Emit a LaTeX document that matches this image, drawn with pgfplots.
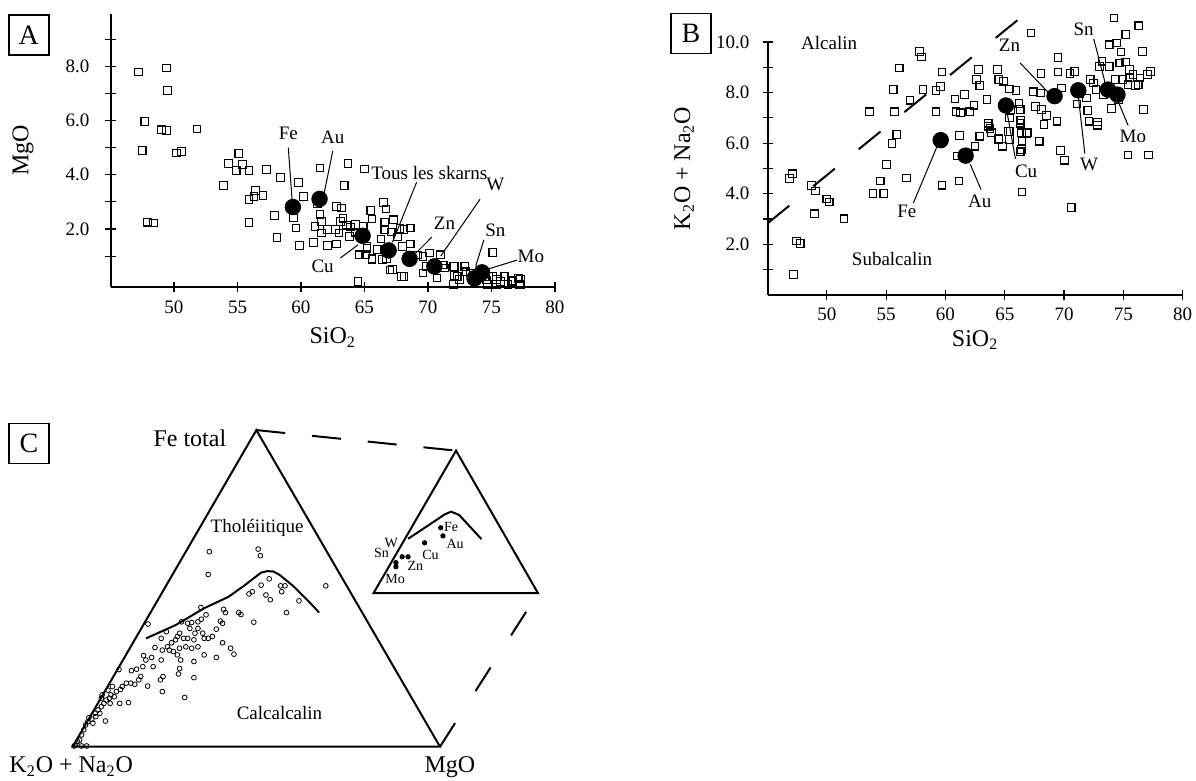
\documentclass[border=0pt]{standalone}
\usepackage{fontspec}
\setmainfont{Liberation Serif}
\usepackage{pgfplots}
\usepackage{pgfplotstable}
\pgfplotsset{compat=1.18}

\newcommand\annf{\fontsize{9.5}{11}\selectfont}
\newcommand\bigf{\fontsize{12}{14}\selectfont}
\newcommand\smallf{\fontsize{7}{8}\selectfont}

% ---------- Panel A : MgO vs SiO2 ----------
\pgfplotstableread{
x y
47.2 7.79
49.4 7.94
49.5 7.10
47.7 5.97
49.0 5.66
49.4 5.63
51.8 5.69
47.5 4.90
50.2 4.80
50.6 4.86
47.9 2.25
48.4 2.22
55.1 4.78
54.3 4.41
54.9 4.16
55.4 4.38
55.9 4.16
53.9 3.61
57.3 4.19
56.4 3.42
56.3 3.20
57.0 3.24
55.9 3.08
55.9 2.24
58.4 3.90
57.9 2.49
58.1 1.69
59.8 3.72
60.2 3.20
59.4 2.41
59.6 2.04
59.9 1.39
61.5 4.25
63.7 4.41
65.0 4.21
63.4 3.61
61.0 1.51
62.1 1.39
62.8 1.45
61.5 2.53
61.3 2.93
61.1 2.10
61.6 2.28
61.6 1.85
62.1 1.98
62.7 1.98
62.8 2.83
63.2 2.77
63.1 2.28
63.0 1.85
63.3 2.40
63.9 2.07
63.8 1.73
64.3 2.16
64.3 1.85
64.9 2.10
64.6 1.05
65.1 1.05
64.5 0.07
65.2 1.36
65.5 2.69
65.6 2.37
65.6 0.87
66.3 1.63
66.0 1.24
66.4 0.87
66.5 2.98
66.7 2.74
66.6 2.24
66.6 1.98
67.3 2.34
67.6 1.70
67.2 0.50
68.0 1.36
68.1 1.98
68.6 2.04
68.6 1.45
68.1 0.25
69.6 0.99
70.1 1.11
71.0 1.05
69.6 0.38
69.9 0.62
70.7 0.19
71.3 0.56
72.1 0.62
72.1 0.28
72.0 -0.05
72.5 0.13
72.9 0.62
73.3 0.38
75.1 1.14
74.8 0.25
74.7 -0.05
75.4 0.13
76.0 0.25
75.4 -0.05
76.3 -0.05
76.7 0.09
77.3 0.16
77.3 -0.05
63.6 2.14
64.25 1.89
67.8 2.01
67.1 1.89
65.2 1.28
65.6 0.92
66.75 0.92
67.0 0.49
67.9 0.24
69.2 1.04
71.2 0.67
72.0 0.61
72.3 0.24
73.0 0.42
74.2 0.37
74.6 0.12
75.1 0.24
75.7 0.06
76.06 0.24
76.6 0.06
77.1 0.18
77.2 -0.06
}\Asq

\pgfplotstableread{
x y
59.36 2.81
61.46 3.11
64.85 1.75
66.9 1.21
68.55 0.90
70.5 0.62
73.66 0.18
74.25 0.40
}\Abig

% ---------- Panel B : K2O+Na2O vs SiO2 ----------
\pgfplotstableread{
x y
46.86 4.61
47.09 4.79
47.44 2.13
47.76 2.04
47.2 0.82
48.7 4.33
49.05 4.11
48.95 3.21
50.0 3.80
50.2 3.68
51.45 3.01
53.6 7.24
53.9 4.01
54.5 4.50
54.8 4.01
55.05 5.16
55.6 8.12
55.7 7.24
55.5 5.99
55.9 6.34
56.1 8.97
56.7 4.63
57.0 7.70
57.8 9.63
58.0 9.41
58.1 8.12
59.2 8.09
59.2 7.24
59.6 8.25
59.7 8.82
59.7 4.34
60.8 7.75
60.9 7.24
61.25 7.20
61.2 6.30
61.15 4.50
61.6 7.92
61.0 5.49
62.05 7.24
62.4 7.50
62.5 5.88
62.6 8.51
62.8 8.91
62.9 8.28
62.9 6.28
63.5 7.72
63.6 6.67
63.9 6.41
64.4 8.91
64.5 8.51
64.9 8.45
65.4 8.14
65.95 8.09
64.5 6.14
64.8 5.88
65.4 6.14
65.4 7.00
65.5 7.33
65.3 6.47
66.2 7.57
66.3 7.33
66.35 6.91
66.4 6.41
66.4 5.75
66.45 6.08
66.9 6.41
66.45 4.07
67.2 10.36
67.4 8.03
67.6 7.46
67.9 6.08
68.0 7.99
68.05 8.75
68.1 7.33
68.3 6.74
68.5 7.09
69.5 9.39
69.5 8.82
69.4 6.87
69.7 5.71
70.05 5.33
69.8 8.18
70.6 3.45
70.5 8.75
70.9 8.84
71.1 7.55
72.0 7.30
72.1 6.87
72.8 6.71
72.8 6.84
72.2 8.51
72.5 8.38
72.7 8.12
73.0 9.04
73.2 9.24
73.8 9.04
73.8 9.89
74.2 10.95
74.4 9.96
74.8 9.61
75.2 10.29
74.7 9.17
75.2 9.21
75.5 8.91
75.4 8.32
75.5 8.58
75.4 5.53
76.3 10.64
76.6 9.63
76.4 8.58
76.25 8.32
76.7 7.33
77.1 5.53
77.3 8.84
77.05 8.71
73.3 7.92
71.9 7.79
71.3 7.96
74.0 7.37
74.6 7.72
73.8 8.12
74.3 8.51
74.96 8.51
75.8 8.71
76.0 8.28
63.6 6.79
63.76 6.59
62.9 6.26
62.5 5.86
64.46 6.19
65.45 6.46
66.3 6.79
66.85 6.39
66.3 5.66
}\Bsq

\pgfplotstableread{
x y
59.6 6.12
61.7 5.51
65.1 7.49
69.2 7.86
71.2 8.09
73.7 8.12
74.5 7.92
}\Bbig

% ---------- Panel C : AFM ternary (u = horizontal, v = vertical, unit = triangle side) ----------
\pgfplotstableread{
u v
0.372 0.531
0.505 0.538
0.511 0.520
0.369 0.469
0.689 0.438
0.535 0.457
0.513 0.440
0.489 0.422
0.480 0.416
0.526 0.413
0.538 0.400
0.566 0.438
0.578 0.438
0.569 0.422
0.616 0.397
0.582 0.365
0.493 0.339
0.411 0.374
0.416 0.365
0.452 0.365
0.458 0.360
0.349 0.379
0.363 0.359
0.402 0.342
0.408 0.336
0.391 0.320
0.350 0.347
0.341 0.340
0.324 0.338
0.313 0.336
0.319 0.322
0.341 0.322
0.333 0.309
0.354 0.309
0.358 0.295
0.369 0.295
0.380 0.300
0.408 0.283
0.430 0.268
0.439 0.252
0.391 0.243
0.358 0.250
0.330 0.232
0.296 0.340
0.291 0.309
0.285 0.300
0.280 0.291
0.269 0.283
0.258 0.272
0.263 0.263
0.274 0.259
0.291 0.268
0.308 0.272
0.324 0.268
0.341 0.272
0.313 0.295
0.330 0.291
0.302 0.295
0.241 0.295
0.255 0.313
0.224 0.270
0.244 0.263
0.215 0.243
0.193 0.248
0.199 0.236
0.241 0.236
0.219 0.218
0.191 0.218
0.174 0.211
0.160 0.207
0.185 0.191
0.180 0.182
0.158 0.173
0.169 0.170
0.204 0.165
0.246 0.191
0.239 0.182
0.291 0.213
0.288 0.198
0.294 0.236
0.285 0.250
0.330 0.188
0.305 0.134
0.244 0.150
0.126 0.210
0.205 0.334
0.146 0.173
0.135 0.164
0.130 0.156
0.119 0.150
0.108 0.164
0.104 0.141
0.100 0.132
0.091 0.127
0.085 0.118
0.078 0.109
0.069 0.100
0.080 0.141
0.102 0.118
0.113 0.136
0.128 0.118
0.152 0.120
0.096 0.154
0.074 0.091
0.063 0.082
0.052 0.075
0.041 0.068
0.044 0.079
0.035 0.059
0.030 0.046
0.024 0.032
0.019 0.018
0.013 0.014
0.008 0.005
0.004 0.002
0.024 0.002
0.038 0.002
0.055 0.064
0.061 0.091
0.089 0.070
0.078 0.132
}\Ccirc

\pgfplotstableread{
u v
1.002 0.596
1.008 0.574
0.958 0.555
0.897 0.517
0.913 0.517
0.880 0.501
0.880 0.490
}\Cdots

\pgfplotsset{
  panel/.style={
    scale only axis, clip=false,
    axis x line*=bottom, axis y line*=left,
    axis line style={-, line width=1pt, black},
    tick align=center, major tick length=5pt,
    every tick/.style={black, line width=0.6pt},
    tick label style={font=\annf},
    /pgf/number format/assume math mode=true,
    label style={font=\bigf},
  },
  sq/.style={only marks, mark=square, mark size=1.9pt, mark options={line width=0.55pt, black}},
  bigdot/.style={only marks, mark=*, mark size=3.9pt, black},
}
\tikzset{
  lead/.style={line width=0.5pt, black},
  panelbox/.style={draw, line width=0.85pt, minimum size=20pt, inner sep=0pt, font=\fontsize{14}{16}\selectfont},
}

\begin{document}
\begin{tikzpicture}
\path[use as bounding box] (0,0) rectangle (598pt,-390.5pt);

% ---------------- A ----------------
\begin{axis}[panel, at={(55.25pt,-143.65pt)}, anchor=south west,
  width=222.25pt, height=136.65pt,
  xmin=45, xmax=80, ymin=-0.15, ymax=9.93,
  xtick={50,55,...,80}, ytick={1,...,9},
  yticklabels={,2.0,,4.0,,6.0,,8.0,},
  yticklabel style={xshift=-4.5pt}, xticklabel style={yshift=-0.6pt},
  xlabel={SiO\textsubscript{2}}, ylabel={MgO},
  xlabel style={at={(axis description cs:0.5,-0.122)}, anchor=north},
  ylabel style={at={(axis description cs:-0.197,0.5)}, anchor=center},
]
\addplot[sq] table[x=x,y=y] {\Asq};
\draw[lead] (axis cs:59.0,5.0) -- (axis cs:59.3,3.07);
\draw[lead] (axis cs:62.5,4.87) -- (axis cs:61.8,3.27);
\draw[lead] (axis cs:69.1,3.72) -- (axis cs:67.2,1.51);
\draw[lead] (axis cs:74.1,3.1) -- (axis cs:71.0,1.0);
\draw[lead] (axis cs:70.3,1.7) -- (axis cs:69.0,1.09);
\draw[lead] (axis cs:74.4,1.6) -- (axis cs:73.75,0.62);
\draw[lead] (axis cs:77.0,0.85) -- (axis cs:74.7,0.52);
\draw[lead] (axis cs:63.1,0.93) -- (axis cs:64.5,1.42);
\addplot[bigdot] table[x=x,y=y] {\Abig};
\node[font=\annf] at (axis cs:59.0,5.54) {Fe};
\node[font=\annf] at (axis cs:62.5,5.38) {Au};
\node[font=\annf] at (axis cs:70.1,4.06) {Tous les skarns};
\node[font=\annf] at (axis cs:75.3,3.63) {W};
\node[font=\annf] at (axis cs:71.3,2.2) {Zn};
\node[font=\annf] at (axis cs:75.3,1.97) {Sn};
\node[font=\annf] at (axis cs:78.1,1.0) {Mo};
\node[font=\annf] at (axis cs:61.7,0.62) {Cu};
\node[panelbox] at (axis cs:38.56,9.16) {A};
\end{axis}

% ---------------- B ----------------
\begin{axis}[panel, at={(383.75pt,-147.5pt)}, anchor=south west,
  width=207.6pt, height=126.5pt,
  xmin=45, xmax=80, ymin=0, ymax=10,
  xtick={50,55,...,80}, ytick={1,...,10},
  yticklabels={,2.0,,4.0,,6.0,,8.0,,10.0},
  yticklabel style={xshift=-3pt}, xticklabel style={yshift=-0.6pt},
  xlabel={SiO\textsubscript{2}}, ylabel={K\textsubscript{2}O + Na\textsubscript{2}O},
  xlabel style={at={(axis description cs:0.5,-0.112)}, anchor=north},
  ylabel style={at={(axis description cs:-0.201,0.5)}, anchor=center},
]
\addplot[line width=1pt, black, dash pattern=on 14pt off 15.4pt] coordinates {(45,2.83) (66.2,10.91)};
\addplot[sq] table[x=x,y=y] {\Bsq};
\draw[lead] (axis cs:57.3,3.64) -- (axis cs:59.3,5.88);
\draw[lead] (axis cs:63.0,4.17) -- (axis cs:62.1,5.16);
\draw[lead] (axis cs:65.9,5.38) -- (axis cs:65.2,7.2);
\draw[lead] (axis cs:66.3,9.17) -- (axis cs:68.7,7.99);
\draw[lead] (axis cs:72.5,10.12) -- (axis cs:73.5,8.32);
\draw[lead] (axis cs:71.75,5.59) -- (axis cs:71.2,7.86);
\draw[lead] (axis cs:75.4,6.70) -- (axis cs:74.5,7.72);
\addplot[bigdot] table[x=x,y=y] {\Bbig};
\node[font=\annf] at (axis cs:56.75,3.29) {Fe};
\node[font=\annf] at (axis cs:62.9,3.71) {Au};
\node[font=\annf] at (axis cs:66.8,4.89) {Cu};
\node[font=\annf] at (axis cs:65.4,9.89) {Zn};
\node[font=\annf] at (axis cs:71.65,10.49) {Sn};
\node[font=\annf] at (axis cs:72.1,5.16) {W};
\node[font=\annf] at (axis cs:75.8,6.28) {Mo};
\node[font=\annf] at (axis cs:50.2,9.96) {Alcalin};
\node[font=\annf] at (axis cs:55.5,1.43) {Subalcalin};
\node[panelbox] at (axis cs:38.55,10.34) {B};
\end{axis}

% ---------------- C ----------------
\begin{axis}[at={(1.455pt,-389.88pt)}, anchor=south west,
  x=183.65pt, y=183.65pt,
  xmin=-0.19, xmax=1.3, ymin=-0.09, ymax=0.9,
  hide axis, clip=false]
\addplot[line width=1pt, black, line join=miter] coordinates {(0,0) (1,0) (0.5,0.862) (0,0) (1,0)};
\addplot[line width=1pt, black] coordinates {(0.200,0.295) (0.280,0.331) (0.358,0.377) (0.424,0.408) (0.469,0.440) (0.496,0.461) (0.513,0.474) (0.530,0.478) (0.546,0.477) (0.563,0.468) (0.602,0.436) (0.646,0.392) (0.671,0.365)};
\addplot[only marks, mark=o, mark size=1.2pt, mark options={line width=0.4pt, black}] table[x=u,y=v] {\Ccirc};
\addplot[line width=1pt, black, line join=miter] coordinates {(0.819,0.418) (1.2669,0.418) (1.0436,0.806) (0.819,0.418) (1.2669,0.418)};
\addplot[line width=1pt, black] coordinates {(0.913,0.566) (0.969,0.603) (1.012,0.632) (1.030,0.640) (1.052,0.631) (1.113,0.565)};
\addplot[only marks, mark=*, mark size=1.1pt, black] table[x=u,y=v] {\Cdots};
\addplot[line width=1pt, black, dash pattern=on 14.5pt off 13.5pt] coordinates {(0.5,0.862) (1.0436,0.806)};
\addplot[line width=1pt, black, dash pattern=on 14pt off 19pt] coordinates {(1.0,0) (1.2669,0.418)};
\node[font=\bigf] at (axis cs:0.319,0.84) {Fe total};
\node[font=\bigf, anchor=base] at (axis cs:-0.004,-0.071) {K\textsubscript{2}O + Na\textsubscript{2}O};
\node[font=\bigf, anchor=base] at (axis cs:1.027,-0.071) {MgO};
\node[font=\annf] at (axis cs:0.502,0.595) {Tholéiitique};
\node[font=\annf] at (axis cs:0.563,0.093) {Calcalcalin};
\node[font=\smallf] at (axis cs:1.030,0.599) {Fe};
\node[font=\smallf] at (axis cs:1.041,0.551) {Au};
\node[font=\smallf] at (axis cs:0.974,0.522) {Cu};
\node[font=\smallf] at (axis cs:0.933,0.492) {Zn};
\node[font=\smallf] at (axis cs:0.878,0.456) {Mo};
\node[font=\smallf] at (axis cs:0.841,0.527) {Sn};
\node[font=\smallf] at (axis cs:0.867,0.555) {W};
\node[panelbox] at (axis cs:-0.119,0.8255) {C};
\end{axis}
\end{tikzpicture}
\end{document}
